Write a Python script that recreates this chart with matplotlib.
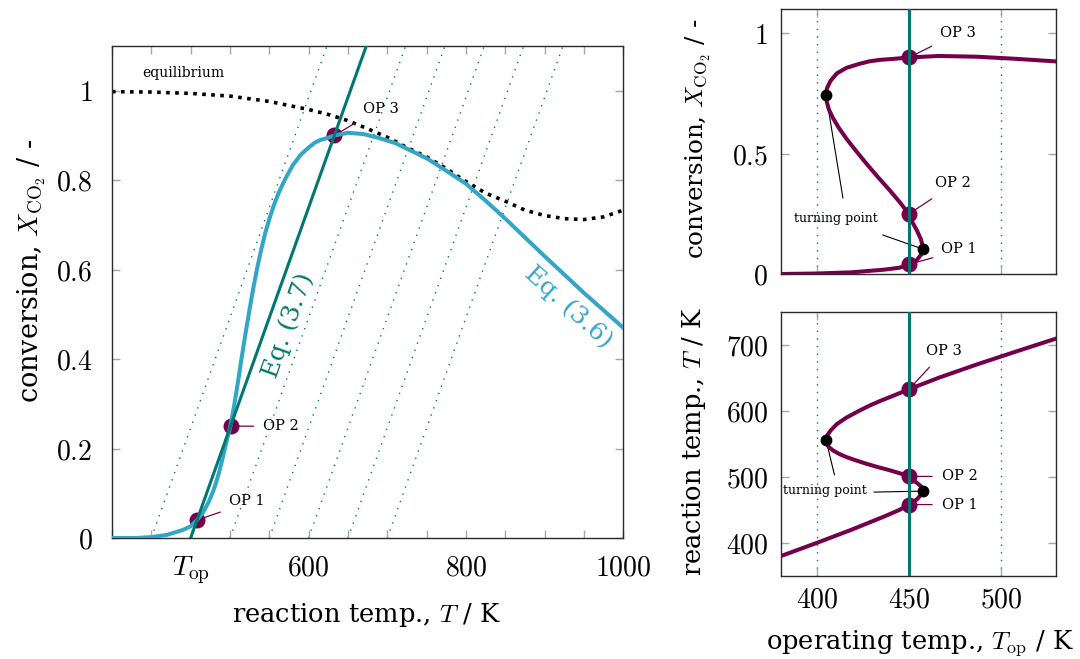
import numpy as np
import matplotlib
matplotlib.use("Agg")
import matplotlib.pyplot as plt

plt.rcParams["mathtext.fontset"] = "cm"
plt.rcParams["font.family"] = ["DejaVu Serif"]
plt.rcParams["axes.unicode_minus"] = False

# ---------------------------------------------------------------- data
# Reactor conversion from the kinetic model, Eq. (3.6): X(T)
T_eq36 = [350, 380, 400, 420, 440, 450, 458, 466, 473, 478.5, 482, 486, 491,
          496, 500.5, 505, 510, 515, 520, 525, 530, 535, 540, 545, 550, 556,
          562, 570, 580, 590, 600, 608, 615, 623, 633, 650, 670, 690, 710,
          730, 750, 775, 800, 825, 850, 875, 900, 925, 950, 975, 1000]
X_eq36 = [0.0, 0.0, 0.002, 0.007, 0.018, 0.026, 0.040, 0.058, 0.081, 0.104,
          0.122, 0.146, 0.181, 0.219, 0.250, 0.293, 0.347, 0.405, 0.460,
          0.512, 0.562, 0.607, 0.647, 0.683, 0.713, 0.745, 0.772, 0.802,
          0.834, 0.857, 0.873, 0.884, 0.890, 0.894, 0.900, 0.906, 0.903,
          0.894, 0.883, 0.866, 0.849, 0.821, 0.792, 0.754, 0.714, 0.672,
          0.630, 0.589, 0.548, 0.509, 0.470]

# Equilibrium conversion
T_equil = [350, 400, 450, 500, 550, 600, 627, 650, 675, 700, 725, 750, 775,
           800, 825, 850, 875, 900, 925, 950, 975, 1000]
X_equil = [0.998, 0.997, 0.994, 0.988, 0.976, 0.958, 0.946, 0.933, 0.915,
           0.896, 0.873, 0.852, 0.826, 0.797, 0.771, 0.753, 0.733, 0.721,
           0.714, 0.712, 0.718, 0.733]

# Energy balance, Eq. (3.7): X = (T - T_op) / dT_ad
DT_AD = 203.0
T_OP = 450.0
T_OP_GUIDES = [400, 500, 550, 600, 650, 700]
T_OP_VLINES = [400, 500]

# Operating points at T_op = 450 K
OP_NAMES = ["OP 1", "OP 2", "OP 3"]
OP_X = [0.040, 0.250, 0.900]

# ---------------------------------------------------------------- colours
C_TEAL = "#00776F"
C_BLUE = "#33A6C8"
C_PURPLE = "#74004B"
C_TICK = "#a6a6a6"
C_SPINE = "#2b2b2b"

T36 = np.array(T_eq36)
X36 = np.array(X_eq36)
op_X = np.array(OP_X)
op_T = T_OP + DT_AD * op_X

# steady-state branches: operating temperature belonging to each (T, X)
Top36 = T36 - DT_AD * X36
upper = X36 > 0.5
i_up = np.where(upper)[0][np.argmin(Top36[upper])]
lower = (X36 < 0.5) & (T36 < 600)
i_lo = np.where(lower)[0][np.argmax(Top36[lower])]
turn_Top = Top36[[i_up, i_lo]]
turn_X = X36[[i_up, i_lo]]
turn_T = T36[[i_up, i_lo]]

fig = plt.figure(figsize=(10.8, 6.59), dpi=100)
ax = fig.add_axes([0.1037, 0.1836, 0.4734, 0.7466])
ax_x = fig.add_axes([0.7227, 0.5842, 0.2551, 0.4017])
ax_t = fig.add_axes([0.7227, 0.1259, 0.2551, 0.4011])

TICK_FS = 20
LABEL_FS = 18.5
NOTE_FS = 10.5
TURN_FS = 9


def style(a, xpad, ypad):
    a.tick_params(direction="in", top=True, right=True, length=6, width=1,
                  color=C_TICK, labelsize=TICK_FS)
    a.tick_params(axis="x", pad=xpad)
    a.tick_params(axis="y", pad=ypad)
    for s in a.spines.values():
        s.set_color(C_SPINE)
        s.set_linewidth(1.0)


def pin(a, xy, text, text_off, pin_off, color=C_PURPLE, lw=0.9, fs=NOTE_FS):
    a.annotate("", xy=xy, xytext=pin_off, textcoords="offset points",
               arrowprops=dict(arrowstyle="-", color=color, lw=lw,
                               shrinkA=0, shrinkB=0), zorder=2)
    if text:
        a.annotate(text, xy=xy, xytext=text_off, textcoords="offset points",
                   ha="center", va="center", fontsize=fs, zorder=6)


# ---------------------------------------------------------------- left panel
ax.set_xlim(350, 1000)
ax.set_ylim(0, 1.1)
for tg in T_OP_GUIDES:
    tt = np.array([tg, tg + 1.1 * DT_AD])
    ax.plot(tt, (tt - tg) / DT_AD, color=C_TEAL, lw=1.0,
            ls=(0, (1, 4.5)), zorder=1)
ax.plot(T_equil, X_equil, color="black", lw=2.6, ls=(0, (1, 1.5)), zorder=2)
ax.plot(op_T, op_X, "o", ms=11.5, color=C_PURPLE, mec="none", zorder=3)
ax.plot(T36, X36, color=C_BLUE, lw=2.9, zorder=4, solid_joinstyle="round")
tl = np.array([T_OP, T_OP + 1.1 * DT_AD])
ax.plot(tl, (tl - T_OP) / DT_AD, color=C_TEAL, lw=2.2, zorder=5)

pin(ax, (op_T[0], op_X[0]), OP_NAMES[0], (36, 13.7), (16.8, 5.8))
pin(ax, (op_T[1], op_X[1]), OP_NAMES[1], (36, 0), (16.6, 0))
pin(ax, (op_T[2], op_X[2]), OP_NAMES[2], (33.8, 19.4), (14.4, 8.6))

ax.text(388.6, 1.039, "equilibrium", fontsize=10, ha="left", va="center")

fig.canvas.draw()


def screen_angle(a, p0, p1):
    d = a.transData.transform([p1]) - a.transData.transform([p0])
    return np.degrees(np.arctan2(d[0, 1], d[0, 0]))


ang37 = screen_angle(ax, (T_OP, 0.0), (T_OP + DT_AD, 1.0))
ax.text(574, 0.476, "Eq. (3.7)", color=C_TEAL, fontsize=18, rotation=ang37,
        rotation_mode="anchor", ha="center", va="center")
ang36 = screen_angle(ax, (900, 0.630), (1000, 0.470))
ax.text(930, 0.516, "Eq. (3.6)", color=C_BLUE, fontsize=18, rotation=ang36,
        rotation_mode="anchor", ha="center", va="center")

style(ax, 12, 14)
ax.set_xticks(np.arange(350, 1001, 50),
              [r"$T_{\mathrm{op}}$" if t == 450 else (f"${t}$" if t in (600, 800, 1000) else "")
               for t in range(350, 1001, 50)])
ax.set_yticks(np.arange(0, 1.01, 0.2),
              ["$0$", "$0.2$", "$0.4$", "$0.6$", "$0.8$", "$1$"])
ax.set_xlabel(r"reaction temp., $T$ / K", fontsize=LABEL_FS)
ax.set_ylabel(r"conversion, $X_{\mathrm{CO}_2}$ / -", fontsize=19.5)
ax.xaxis.set_label_coords(0.497, -0.128)
ax.yaxis.set_label_coords(-0.125, 0.543)

# ---------------------------------------------------------------- right panels
for a in (ax_x, ax_t):
    a.set_xlim(380, 530)
    for tv in T_OP_VLINES:
        a.axvline(tv, color=C_TEAL, lw=1.0, ls=(0, (1, 4.5)), zorder=1)
    a.axvline(T_OP, color=C_TEAL, lw=2.2, zorder=5)
    a.set_xticks([400, 450, 500])

# conversion vs operating temperature
ax_x.set_ylim(0, 1.1)
ax_x.plot(Top36, X36, color=C_PURPLE, lw=2.9, zorder=3, solid_joinstyle="round")
ax_x.plot([T_OP] * 3, op_X, "o", ms=11.5, color=C_PURPLE, mec="none", zorder=4)
ax_x.plot(turn_Top, turn_X, "o", ms=8.5, color="black", mec="none", zorder=6)
pin(ax_x, (T_OP, op_X[2]), OP_NAMES[2], (34.9, 17.3), (16.3, 8.1))
pin(ax_x, (T_OP, op_X[1]), OP_NAMES[1], (31.5, 22), (16.3, 10.8))
pin(ax_x, (T_OP, op_X[0]), OP_NAMES[0], (35.9, 10.8), (17.1, 4.8))
pin(ax_x, (turn_Top[0], turn_X[0]), "turning point", (7, -89.3), (12.2, -74.4),
    color="black", lw=0.8, fs=TURN_FS)
pin(ax_x, (turn_Top[1], turn_X[1]), "", None, (-28.8, 10.1), color="black", lw=0.8)
style(ax_x, 7.7, 8.9)
ax_x.set_yticks([0, 0.5, 1], ["$0$", "$0.5$", "$1$"])
ax_x.tick_params(axis="x", labelbottom=False)
ax_x.set_ylabel(r"conversion, $X_{\mathrm{CO}_2}$ / -", fontsize=17.7)
ax_x.yaxis.set_label_coords(-0.245, 0.512)

# reaction temperature vs operating temperature
ax_t.set_ylim(350, 750)
ax_t.plot(Top36, T36, color=C_PURPLE, lw=2.9, zorder=3, solid_joinstyle="round")
ax_t.plot([T_OP] * 3, op_T, "o", ms=11.5, color=C_PURPLE, mec="none", zorder=4)
ax_t.plot(turn_Top, turn_T, "o", ms=8.5, color="black", mec="none", zorder=6)
pin(ax_t, (T_OP, op_T[2]), OP_NAMES[2], (25.2, 27.4), (14.6, 15.8))
pin(ax_t, (T_OP, op_T[1]), OP_NAMES[1], (36.5, 0), (16.6, 0))
pin(ax_t, (T_OP, op_T[0]), OP_NAMES[0], (36.5, 0), (16.6, 0))
pin(ax_t, (turn_Top[0], turn_T[0]), "turning point", (-0.5, -36.4), (6.1, -25.2),
    color="black", lw=0.8, fs=TURN_FS)
pin(ax_t, (turn_Top[1], turn_T[1]), "", None, (-35.1, -0.7), color="black", lw=0.8)
style(ax_t, 7.7, 8.9)
ax_t.set_xticks([400, 450, 500], ["$400$", "$450$", "$500$"])
ax_t.set_yticks([400, 500, 600, 700], ["$400$", "$500$", "$600$", "$700$"])
ax_t.set_xlabel(r"operating temp., $T_{\mathrm{op}}$ / K", fontsize=LABEL_FS)
ax_t.set_ylabel(r"reaction temp., $T$ / K", fontsize=LABEL_FS)
ax_t.xaxis.set_label_coords(0.506, -0.197)
ax_t.yaxis.set_label_coords(-0.262, 0.507)

fig.savefig("out.png", dpi=100)
